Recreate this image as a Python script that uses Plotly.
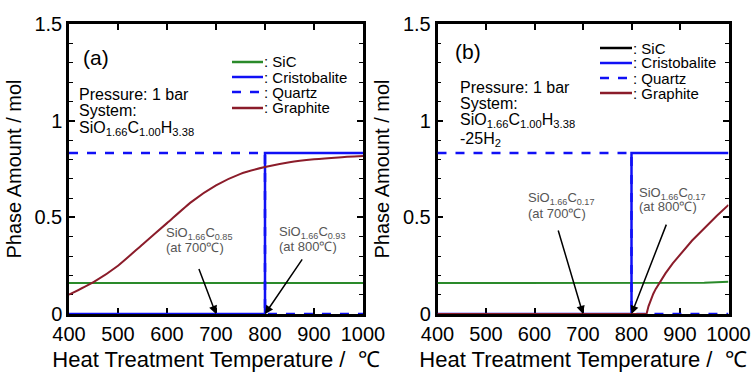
import plotly.graph_objects as go

# ---------------- data ----------------
# Panel (a): SiO1.66C1.00H3.38
sic_a_T = [400, 1000]
sic_a = [0.16, 0.16]
cristobalite_a_T = [400, 800, 1000]
cristobalite_a = [0.0, 0.833, 0.833]
quartz_a_T = [400, 800, 1000]
quartz_a = [0.833, 0.0, 0.0]
graphite_a_T = [400, 450, 500, 550, 600, 650, 700, 750, 800, 850, 900, 950, 1000]
graphite_a = [0.10, 0.165, 0.25, 0.36, 0.47, 0.58, 0.665, 0.725, 0.76, 0.785, 0.80, 0.81, 0.817]

# Panel (b): SiO1.66C1.00H3.38 - 25H2
sic_b_T = [400, 900, 950, 1000]
sic_b = [0.16, 0.16, 0.162, 0.167]
cristobalite_b_T = [400, 800, 1000]
cristobalite_b = [0.0, 0.833, 0.833]
quartz_b_T = [400, 800, 1000]
quartz_b = [0.833, 0.0, 0.0]
graphite_b_T = [400, 831, 835, 840, 845, 850, 857, 870, 885, 907, 925, 941, 960, 976, 1000]
graphite_b = [0.0, 0.0, 0.04, 0.075, 0.105, 0.13, 0.16, 0.21, 0.262, 0.33, 0.38, 0.42, 0.47, 0.508, 0.564]

x_ticks = [400, 500, 600, 700, 800, 900, 1000]
y_ticks = [0, 0.5, 1, 1.5]
y_tick_text = ["0", "0.5", "1", "1.5"]

legend_names = [": SiC", ": Cristobalite", ": Quartz", ": Graphite"]

# ---------------- style ----------------
W, H = 754, 372
GREEN = "#2a8a2a"
BLUE = "#1010f5"
RED = "#8b1c2a"
FONT = "Arial, Liberation Sans, sans-serif"


def px(x):
    return x / W


def py(y):
    return 1 - y / H


fig = go.Figure()


def add_panel(xa, ya, sT, s, cT, c, qT, q, gT, g, gshape):
    fig.add_trace(go.Scatter(x=sT, y=s, mode="lines", line=dict(color=GREEN, width=2),
                             xaxis=xa, yaxis=ya, showlegend=False))
    fig.add_trace(go.Scatter(x=qT, y=q, mode="lines", line=dict(color=BLUE, width=2.5, dash="dash", shape="hv"),
                             xaxis=xa, yaxis=ya, showlegend=False))
    fig.add_trace(go.Scatter(x=cT, y=c, mode="lines", line=dict(color=BLUE, width=2.5, shape="hv"),
                             xaxis=xa, yaxis=ya, showlegend=False))
    fig.add_trace(go.Scatter(x=gT, y=g, mode="lines", line=dict(color=RED, width=2, **gshape),
                             xaxis=xa, yaxis=ya, showlegend=False))


add_panel("x", "y", sic_a_T, sic_a, cristobalite_a_T, cristobalite_a, quartz_a_T, quartz_a,
          graphite_a_T, graphite_a, dict(shape="spline", smoothing=0.6))
add_panel("x2", "y2", sic_b_T, sic_b, cristobalite_b_T, cristobalite_b, quartz_b_T, quartz_b,
          graphite_b_T, graphite_b, dict(shape="linear"))

ydom = [py(314), py(24)]
axis_common = dict(
    showline=True, linecolor="black", linewidth=2.5, mirror="ticks",
    ticks="inside", ticklen=6, tickwidth=1.5, tickcolor="black",
    showgrid=False, zeroline=False, layer="below traces", automargin=False,
    tickfont=dict(family=FONT, size=20, color="black"),
)
xcommon = dict(axis_common, range=[400, 1000], tickvals=x_ticks,
               title=dict(text="Heat Treatment Temperature /  ℃", font=dict(family=FONT, size=22, color="black"),
                          standoff=12))
ycommon = dict(axis_common, range=[0, 1.5], tickvals=y_ticks, ticktext=y_tick_text,
               minor=dict(dtick=0.1, ticks="inside", ticklen=4, tickcolor="black", tickwidth=1.2),
               title=dict(text="Phase Amount / mol", font=dict(family=FONT, size=20, color="black"),
                          standoff=8))

fig.update_layout(
    width=W, height=H, margin=dict(l=0, r=0, t=0, b=0),
    paper_bgcolor="white", plot_bgcolor="white",
    font=dict(family=FONT, color="black"),
    xaxis=dict(xcommon, domain=[px(69), px(363)], anchor="y"),
    yaxis=dict(ycommon, domain=ydom, anchor="x"),
    xaxis2=dict(xcommon, domain=[px(437.5), px(728.5)], anchor="y2"),
    yaxis2=dict(ycommon, domain=ydom, anchor="x2"),
    showlegend=False,
)

annotations = []
shapes = []


def text(x, y, t, size, color="black", xanchor="left"):
    annotations.append(dict(x=px(x), y=py(y), xref="paper", yref="paper", text=t, showarrow=False,
                            xanchor=xanchor, yanchor="middle", font=dict(family=FONT, size=size, color=color)))


# Panel labels and conditions
text(81, 58, "(a)", 21)
text(77, 94, "Pressure: 1 bar", 16)
text(77, 111, "System:", 16)
text(77, 128, "SiO<sub>1.66</sub>C<sub>1.00</sub>H<sub>3.38</sub>", 16)

text(453, 52, "(b)", 21)
text(458, 87, "Pressure: 1 bar", 16)
text(458, 104, "System:", 16)
text(458, 121, "SiO<sub>1.66</sub>C<sub>1.00</sub>H<sub>3.38</sub>", 16)
text(458, 139, "-25H<sub>2</sub>", 16)

# Legends (sample lines + labels)
legend_a = [(GREEN, "solid", 62), (BLUE, "solid", 77), (BLUE, "dash", 92), (RED, "solid", 108)]
for (col, dash, yy), name in zip(legend_a, legend_names):
    shapes.append(dict(type="line", xref="paper", yref="paper", x0=px(232), x1=px(263), y0=py(yy), y1=py(yy),
                       line=dict(color=col, width=2.5, dash=dash)))
    text(262, yy, name, 15)

legend_b = [("black", "solid", 48), (BLUE, "solid", 63), (BLUE, "dash", 78), (RED, "solid", 93)]
for (col, dash, yy), name in zip(legend_b, legend_names):
    shapes.append(dict(type="line", xref="paper", yref="paper", x0=px(600), x1=px(632), y0=py(yy), y1=py(yy),
                       line=dict(color=col, width=2.5, dash=dash)))
    text(631, yy, name, 15)

# Composition labels with arrows
GREY = "#555555"


def arrow(xr, yr, x, y, ax, ay):
    annotations.append(dict(x=x, y=y, xref=xr, yref=yr, ax=ax, ay=ay, axref=xr, ayref=yr, text="",
                            showarrow=True, arrowhead=2, arrowsize=1.1, arrowwidth=1.5, arrowcolor="black",
                            standoff=0))


text(164, 233, "SiO<sub>1.66</sub>C<sub>0.85</sub>", 13, GREY)
text(164, 247, "(at 700℃)", 13, GREY)
arrow("x", "y", 700, 0, 664, 0.24)
text(277, 232, "SiO<sub>1.66</sub>C<sub>0.93</sub>", 13, GREY)
text(277, 246, "(at 800℃)", 13, GREY)
arrow("x", "y", 800, 0, 878, 0.29)

text(526, 198, "SiO<sub>1.66</sub>C<sub>0.17</sub>", 13, GREY)
text(526, 213, "(at 700℃)", 13, GREY)
arrow("x2", "y2", 700, 0, 648, 0.44)
text(637, 193, "SiO<sub>1.66</sub>C<sub>0.17</sub>", 13, GREY)
text(637, 207, "(at 800℃)", 13, GREY)
arrow("x2", "y2", 800, 0, 873, 0.47)

fig.update_layout(annotations=annotations, shapes=shapes)

fig.write_html("out.html")
